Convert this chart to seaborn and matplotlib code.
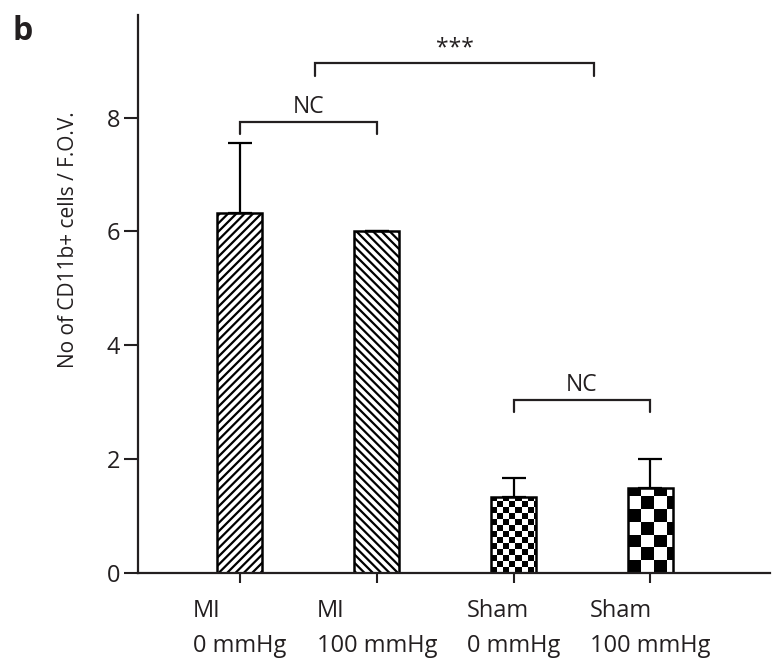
import matplotlib
matplotlib.use("Agg")
import matplotlib.pyplot as plt
import seaborn as sns
import numpy as np
import pandas as pd

# data
groups = ["MI\n0 mmHg", "MI\n100 mmHg", "Sham\n0 mmHg", "Sham\n100 mmHg"]
means = [6.33, 6.0, 1.33, 1.5]
errors = [1.22, 0.0, 0.34, 0.5]
hatches = ["////", "\\\\\\\\", "check_small", "check_big"]
# (left x, right x, bracket height, label)
brackets = [(0, 1, 7.93, "NC"), (0.55, 2.59, 8.95, "***"), (2, 3, 3.04, "NC")]

sns.set_theme(style="ticks")
plt.rcParams["font.family"] = ["Open Sans", "DejaVu Sans"]
plt.rcParams["hatch.linewidth"] = 1.6
plt.rcParams["hatch.color"] = "black"
TXT = "#231f20"

fig = plt.figure(figsize=(7.75, 6.69), dpi=100)
ax = fig.add_axes([0.178, 0.1435, 0.816, 0.834])

df = pd.DataFrame({"group": groups, "value": means})
sns.barplot(data=df, x="group", y="value", color="white", saturation=1,
            edgecolor="black", linewidth=1.8, width=0.33, errorbar=None, ax=ax)

ax.errorbar(x=np.arange(len(means)), y=means,
            yerr=[np.zeros(len(errors)), errors],
            fmt="none", ecolor="black", elinewidth=1.6, capsize=8.5, capthick=1.6, zorder=1)

ax.set_xlim(-0.745, 3.876)
ax.set_ylim(0, 9.8)

# hatch / checkerboard fills
for patch, h in zip(ax.patches, hatches):
    if h.startswith("check"):
        cell_px = 6.0 if h == "check_small" else 12.7
        cw = cell_px / 137.0
        chh = cell_px / 57.0
        x0, y0 = patch.get_x(), patch.get_y()
        w, hgt = patch.get_width(), patch.get_height()
        nx = int(np.ceil(w / cw)) + 1
        ny = int(np.ceil(hgt / chh)) + 1
        board = (np.add.outer(np.arange(ny), np.arange(nx)) % 2).astype(float)
        im = ax.imshow(board, cmap="gray", interpolation="nearest", aspect="auto",
                       origin="lower", extent=[x0, x0 + nx * cw, y0, y0 + ny * chh],
                       zorder=patch.get_zorder() - 0.1)
        im.set_clip_path(patch)
        patch.set_facecolor("none")
        patch.set_zorder(patch.get_zorder() + 0.2)
    else:
        patch.set_hatch(h)

ax.set_xlim(-0.745, 3.876)
ax.set_ylim(0, 9.8)

# significance brackets
for a, b, yb, lab in brackets:
    ax.plot([a, a, b, b], [yb - 0.22, yb, yb, yb - 0.22], color=TXT, lw=1.6,
            solid_joinstyle="miter", clip_on=False)
    ax.text((a + b) / 2, yb + 0.05, lab, ha="center", va="bottom",
            fontsize=16.5, color=TXT)

ax.set_yticks([0, 2, 4, 6, 8])
ax.set_xticks(range(len(groups)))
ax.set_xticklabels(groups, multialignment="left", fontsize=17, color=TXT, linespacing=1.6)
ax.tick_params(axis="y", labelsize=17, length=10, width=1.5, colors=TXT, pad=3)
ax.tick_params(axis="x", length=7, width=1.5, colors=TXT, pad=12)
ax.set_xlabel("")
ax.set_ylabel("No of CD11b+ cells / F.O.V.", fontsize=15, color=TXT)
ax.yaxis.set_label_coords(-0.094, 0.597)

sns.despine(ax=ax)
for s in ["left", "bottom"]:
    ax.spines[s].set_linewidth(1.6)
    ax.spines[s].set_color(TXT)

fig.text(0.016, 0.94, "b", fontsize=23, fontweight="bold", color=TXT)

fig.savefig("out.png", dpi=100)
